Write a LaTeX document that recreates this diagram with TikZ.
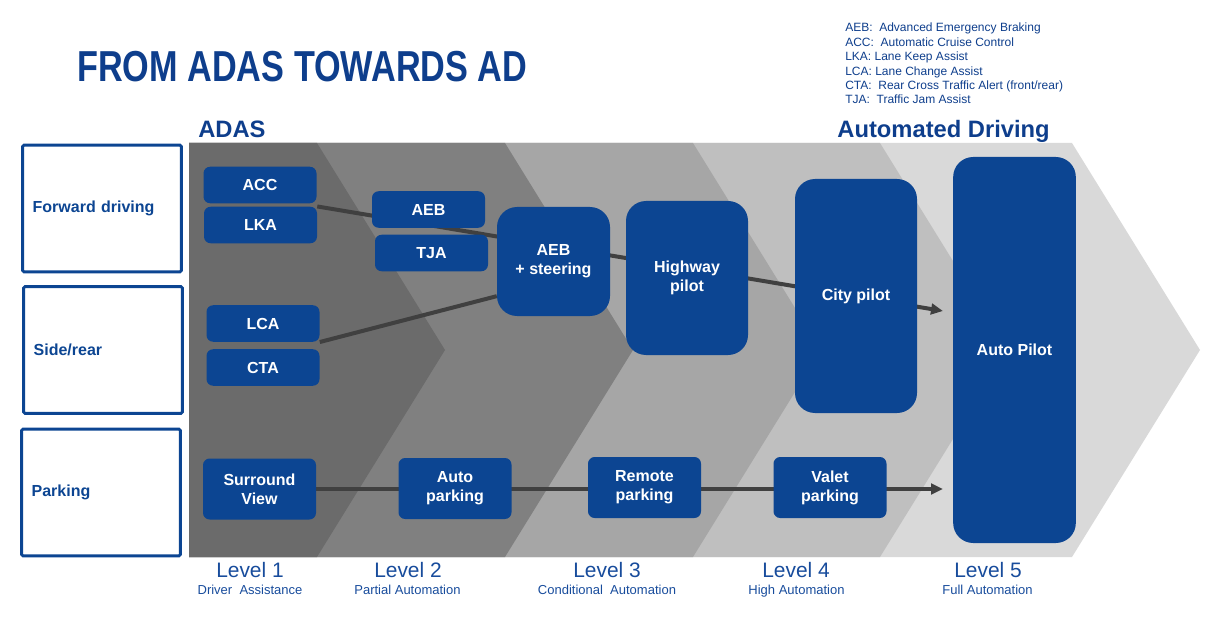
\documentclass[tikz,border=0pt]{standalone}
\usepackage{fontspec}
\setmainfont{Liberation Sans}
\newfontfamily\titlefont[FakeStretch=0.79]{Liberation Sans}
\usetikzlibrary{arrows.meta}
\pgfdeclarelayer{back}
\pgfdeclarelayer{lines}
\pgfsetlayers{back,lines,main}

\definecolor{adasblue}{RGB}{12,69,146}
\definecolor{titleblue}{RGB}{14,62,140}
\definecolor{levelblue}{RGB}{24,76,156}
\definecolor{flowgray}{RGB}{64,64,64}
\definecolor{lvlone}{RGB}{107,107,107}
\definecolor{lvltwo}{RGB}{128,128,128}
\definecolor{lvlthree}{RGB}{166,166,166}
\definecolor{lvlfour}{RGB}{191,191,191}
\definecolor{lvlfive}{RGB}{217,217,217}

\def\chevdepth{128}

\begin{document}
\begin{tikzpicture}[x=0.75pt,y=-0.75pt]
    \tikzstyle{feature}=[rounded corners=5pt,fill=adasblue,text=white,font=\bfseries\fontsize{12}{14.4}\selectfont,align=center,inner sep=0pt,minimum width=84.75pt,minimum height=27.4pt]
    \tikzstyle{pilot}=[feature,rounded corners=15pt,minimum width=91.5pt]
    \tikzstyle{park}=[feature,minimum height=45.75pt]
    \tikzstyle{category}=[draw=adasblue,line width=2.2pt,rounded corners=1pt,text=adasblue,font=\bfseries\fontsize{12}{14.4}\selectfont,align=left,text width=104pt,inner xsep=7.5pt,minimum height=95pt]
    \tikzstyle{flow}=[draw=flowgray,line width=3pt]
    \tikzstyle{heading}=[anchor=base west,inner sep=0pt,text=titleblue,font=\bfseries\fontsize{17.8}{20}\selectfont]
    \tikzstyle{level}=[anchor=base,inner sep=0pt,text=levelblue,font=\fontsize{15.7}{18}\selectfont]
    \tikzstyle{sublevel}=[anchor=base,inner sep=0pt,text=levelblue,font=\fontsize{9.75}{12}\selectfont]

    \useasboundingbox (0,0) rectangle (1220,620);

    % Level chevrons
    \begin{pgfonlayer}{back}
        \fill[lvlfive] (189,143) -- (1072,143) -- (1072+\chevdepth,350) -- (1072,557) -- (189,557) -- cycle;
        \fill[lvlfour] (189,143) -- (880,143) -- (880+\chevdepth,350) -- (880,557) -- (189,557) -- cycle;
        \fill[lvlthree] (189,143) -- (693,143) -- (693+\chevdepth,350) -- (693,557) -- (189,557) -- cycle;
        \fill[lvltwo] (189,143) -- (505,143) -- (505+\chevdepth,350) -- (505,557) -- (189,557) -- cycle;
        \fill[lvlone] (189,143) -- (317,143) -- (317+\chevdepth,350) -- (317,557) -- (189,557) -- cycle;
    \end{pgfonlayer}

    % Title and legend
    \node[anchor=base west,inner sep=0pt,text=titleblue,font=\titlefont\bfseries\fontsize{32.5}{38}\selectfont] (title) at (77,82) {FROM ADAS TOWARDS AD};
    \node[anchor=north west,inner sep=0pt,align=left,text=titleblue,font=\fontsize{9}{10.8}\selectfont] (legend) at (845,23) {AEB:\ \ Advanced Emergency Braking\\ACC:\ \ Automatic Cruise Control\\LKA:\ Lane Keep Assist\\LCA:\ Lane Change Assist\\CTA:\ \ Rear Cross Traffic Alert (front/rear)\\TJA:\ \ Traffic Jam Assist};
    \node[heading] (adas) at (198,138) {ADAS};
    \node[heading,anchor=base east] (ad) at (1050,138) {Automated Driving};

    % Use cases
    \node[category] (forward) at (102,208.5) {Forward driving};
    \node[category] (siderear) at (103,350) {Side/rear};
    \node[category] (parking) at (101,492.5) {Parking};

    % Functions
    \node[feature] (acc) at (260,185) {ACC};
    \node[feature] (lka) at (260.5,225) {LKA};
    \node[feature] (aeb) at (428.5,209.5) {AEB};
    \node[feature] (tja) at (431.5,253) {TJA};
    \node[feature] (lca) at (263,323.5) {LCA};
    \node[feature] (cta) at (263,367.5) {CTA};
    \node[feature,rounded corners=15pt,minimum height=81.75pt] (aebs) at (553.5,261.5) {AEB\\+ steering};
    \node[pilot,minimum height=115.5pt] (highway) at (687,278) {Highway\\pilot};
    \node[pilot,minimum height=175.5pt] (city) at (856,296) {City pilot};
    \node[pilot,minimum width=92pt,minimum height=289.5pt] (autopilot) at (1014.5,350) {Auto Pilot};
    \node[park] (surround) at (259.5,489) {Surround\\View};
    \node[park] (autopark) at (455,488.5) {Auto\\parking};
    \node[park] (remote) at (644.5,487.5) {Remote\\parking};
    \node[park] (valet) at (830,487.5) {Valet\\parking};

    % Levels
    \node[level] (lone) at (250,577) {Level 1};
    \node[sublevel] (done) at (250,594) {Driver\ \ Assistance};
    \node[level] (ltwo) at (408,577) {Level 2};
    \node[sublevel] (dtwo) at (407.5,594) {Partial Automation};
    \node[level] (lthree) at (607,577) {Level 3};
    \node[sublevel] (dthree) at (607,594) {Conditional\ \ Automation};
    \node[level] (lfour) at (796,577) {Level 4};
    \node[sublevel] (dfour) at (796.5,594) {High Automation};
    \node[level] (lfive) at (988,577) {Level 5};
    \node[sublevel] (dfive) at (987.5,594) {Full Automation};

    % Connect the functions
    \coordinate (fwdend) at (943,311);
    \coordinate (parkend) at (943,489);
    \begin{pgfonlayer}{lines}
        \draw[flow,-{Triangle[length=9pt,width=8pt]}] (lka.north east) -- (fwdend);
        \draw[flow] (lca.south east) -- ([yshift=-26pt]aebs.west);
        \draw[flow,-{Triangle[length=9pt,width=8pt]}] (surround.east) -- (parkend);
    \end{pgfonlayer}

\end{tikzpicture}
\end{document}
